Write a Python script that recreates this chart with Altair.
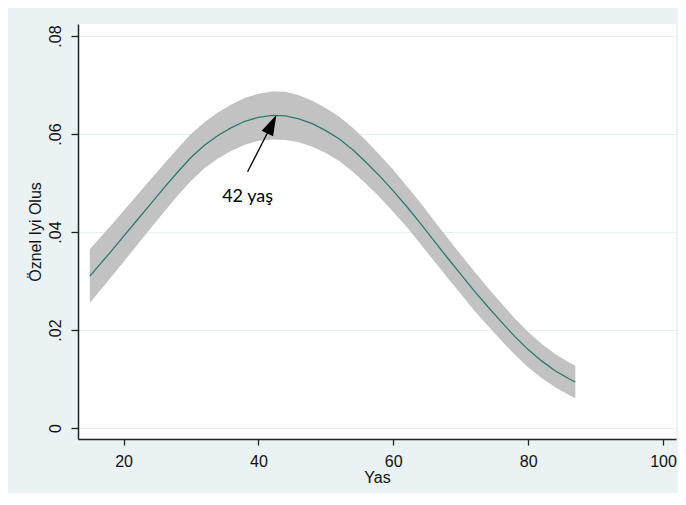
import altair as alt
import pandas as pd

ages = [15, 18, 20, 22, 24, 26, 28, 30, 32, 34, 36, 38, 40, 42, 44, 46, 48, 50,
        52, 54, 56, 58, 60, 62, 64, 66, 68, 70, 72, 74, 76, 78, 80, 82, 84, 86, 87]
fit = [.0310, .0358, .0391, .0424, .0457, .0490, .0522, .0552, .0577, .0597,
       .0613, .0626, .0634, .0638, .0637, .0631, .0621, .0607, .0590, .0568,
       .0542, .0514, .0484, .0452, .0418, .0383, .0348, .0314, .0280, .0248,
       .0217, .0187, .0160, .0137, .0117, .0101, .0094]
half_ci = [.0055, .0053, .0052, .0051, .0050, .0049, .0048, .0048, .0047, .0047,
           .0047, .0048, .0048, .0049, .0049, .0048, .0047, .0046, .0045, .0045,
           .0044, .0043, .0043, .0042, .0042, .0041, .0041, .0040, .0040, .0039,
           .0038, .0037, .0036, .0035, .0034, .0033, .0033]

x_ticks = [20, 40, 60, 80, 100]
y_ticks = [0, 0.02, 0.04, 0.06, 0.08]

# annotation
arrow_tail = (38.4, 0.0523)
arrow_tip = (42.0, 0.0620)
note_pos = (38.4, 0.0471)
note_text = "42 yaş"

df = pd.DataFrame({"age": ages, "fit": fit,
                   "lo": [f - h for f, h in zip(fit, half_ci)],
                   "hi": [f + h for f, h in zip(fit, half_ci)]})

xs = alt.Scale(domain=[13.25, 101.93], nice=False, zero=False)
ys = alt.Scale(domain=[-0.00224, 0.08245], nice=False, zero=False)

label_expr = "datum.value == 0 ? '0' : replace(format(datum.value, '.2f'), /^0/, '')"

xaxis = alt.Axis(values=x_ticks, title="Yas", grid=False, domainColor="#222",
                 domainWidth=1.5, tickColor="#222", tickSize=6, tickWidth=1.3,
                 labelFont="Liberation Sans", labelFontSize=16, labelColor="#111",
                 labelPadding=8, labelOverlap=False, labelBound=False,
                 titleFont="Liberation Sans", titleFontSize=16,
                 titleFontWeight="normal", titleColor="#111", titlePadding=0)
yaxis = alt.Axis(values=y_ticks, title="Öznel Iyi Olus", grid=True, gridColor="#e6eff1",
                 gridWidth=1.2, domainColor="#222", domainWidth=1.5, tickColor="#222",
                 tickSize=7, tickWidth=1.3, labelFont="Liberation Sans",
                 labelFontSize=16, labelColor="#111", labelAngle=270,
                 labelAlign="center", labelBaseline="bottom", labelPadding=8,
                 labelExpr=label_expr, titleFont="Liberation Sans", titleFontSize=16,
                 titleFontWeight="normal", titleColor="#111", titlePadding=4)

base = alt.Chart(df)

band = base.mark_area(color="#c2c2c2", opacity=1).encode(
    x=alt.X("age:Q", scale=xs, axis=xaxis),
    y=alt.Y("lo:Q", scale=ys, axis=yaxis),
    y2="hi:Q",
)
line = base.mark_line(color="#2b7a70", strokeWidth=1.3).encode(
    x=alt.X("age:Q", scale=xs),
    y=alt.Y("fit:Q", scale=ys),
)

ann = pd.DataFrame({"x": [arrow_tail[0]], "y": [arrow_tail[1]],
                    "x2": [arrow_tip[0]], "y2": [arrow_tip[1]]})
arrow = alt.Chart(ann).mark_rule(color="black", strokeWidth=1.3).encode(
    x=alt.X("x:Q", scale=xs), y=alt.Y("y:Q", scale=ys), x2="x2:Q", y2="y2:Q")

head = alt.Chart(pd.DataFrame({"x": [arrow_tip[0]], "y": [arrow_tip[1]]})).mark_point(
    shape="M0,-1L0.62,1L-0.62,1Z", filled=True, color="black", opacity=1,
    size=420, angle=26).encode(
    x=alt.X("x:Q", scale=xs), y=alt.Y("y:Q", scale=ys))

note = alt.Chart(pd.DataFrame({"x": [note_pos[0]], "y": [note_pos[1]],
                               "t": [note_text]})).mark_text(
    font="Lato", fontSize=18, color="black", align="center", baseline="middle").encode(
    x=alt.X("x:Q", scale=xs), y=alt.Y("y:Q", scale=ys), text="t:N")

chart = alt.layer(band, line, arrow, head, note).properties(
    width=598, height=415,
    autosize=alt.AutoSizeParams(type="none"),
    padding={"left": 70, "top": 16, "right": 2, "bottom": 54},
    background="#eaf2f3",
).configure_view(fill="white", stroke=None)

chart.save("out.html", embed_options={"renderer": "svg", "actions": False})
